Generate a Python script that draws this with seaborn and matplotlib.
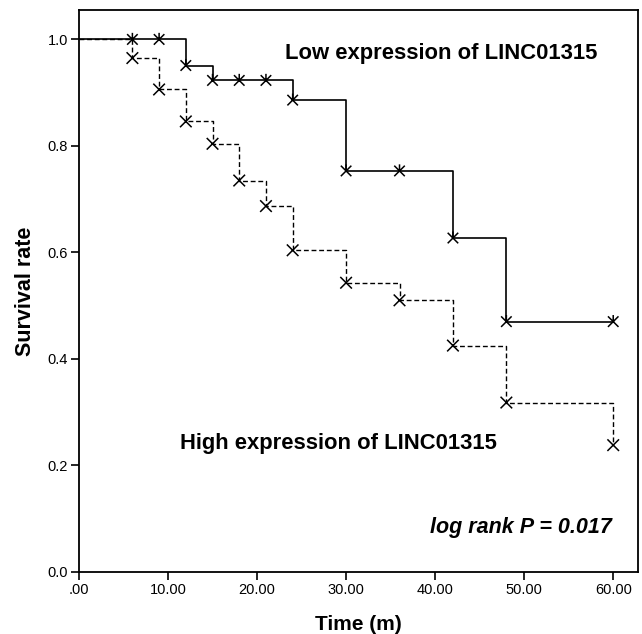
import matplotlib
matplotlib.use("Agg")
import matplotlib.pyplot as plt
import seaborn as sns
from matplotlib.path import Path

# Kaplan-Meier curves (step points)
low_time = [0, 12, 15, 24, 30, 42, 48, 60]
low_surv = [1.0, 0.951, 0.923, 0.886, 0.753, 0.627, 0.470, 0.470]
high_time = [0, 6, 9, 12, 15, 18, 21, 24, 30, 36, 42, 48, 60]
high_surv = [1.0, 0.965, 0.906, 0.846, 0.804, 0.735, 0.687, 0.604, 0.543, 0.510, 0.425, 0.318, 0.238]

# censor / event marks
low_mark_time = [6, 9, 12, 15, 18, 21, 24, 30, 36, 42, 48, 60]
low_mark_surv = [1.0, 1.0, 0.951, 0.923, 0.923, 0.923, 0.886, 0.753, 0.753, 0.627, 0.470, 0.470]
high_mark_time = [6, 9, 12, 15, 18, 21, 24, 30, 36, 42, 48, 60]
high_mark_surv = [0.965, 0.906, 0.846, 0.804, 0.735, 0.687, 0.604, 0.543, 0.510, 0.425, 0.318, 0.238]

x_ticks = [0, 10, 20, 30, 40, 50, 60]
x_tick_labels = [".00", "10.00", "20.00", "30.00", "40.00", "50.00", "60.00"]
y_ticks = [0.0, 0.2, 0.4, 0.6, 0.8, 1.0]
y_tick_labels = ["0.0", "0.2", "0.4", "0.6", "0.8", "1.0"]

sns.set_style("ticks")
plt.rcParams["font.family"] = ["Liberation Sans", "DejaVu Sans"]
plt.rcParams["text.color"] = "black"
plt.rcParams["axes.labelcolor"] = "black"

fig = plt.figure(figsize=(6.42, 6.34), dpi=100)
ax = fig.add_axes([0.123, 0.098, 0.871, 0.886])

# X with a small tick on top (low group), plain X (high group)
star = Path([(-1, -1), (1, 1), (-1, 1), (1, -1), (0, 0), (0, 1.25)],
            [Path.MOVETO, Path.LINETO, Path.MOVETO, Path.LINETO, Path.MOVETO, Path.LINETO])
cross = Path([(-1, -1), (1, 1), (-1, 1), (1, -1)],
             [Path.MOVETO, Path.LINETO, Path.MOVETO, Path.LINETO])

sns.lineplot(x=high_time, y=high_surv, ax=ax, color="black", linewidth=1.0,
             drawstyle="steps-post", linestyle=(0, (3.5, 2)), estimator=None, sort=False)
sns.lineplot(x=low_time, y=low_surv, ax=ax, color="black", linewidth=1.2,
             drawstyle="steps-post", estimator=None, sort=False)

sns.scatterplot(x=high_mark_time, y=high_mark_surv, ax=ax, marker=cross, s=70,
                facecolor="none", edgecolor="black", linewidth=1.1, zorder=3)
sns.scatterplot(x=low_mark_time, y=low_mark_surv, ax=ax, marker=star, s=90,
                facecolor="none", edgecolor="black", linewidth=1.1, zorder=3)

ax.set_xlim(0, 62.8)
ax.set_ylim(0, 1.055)
ax.set_xticks(x_ticks)
ax.set_xticklabels(x_tick_labels)
ax.set_yticks(y_ticks)
ax.set_yticklabels(y_tick_labels)
ax.tick_params(axis="both", direction="out", length=6, width=1.2, labelsize=10.5,
               colors="black", pad=2)

for side in ["left", "right", "top", "bottom"]:
    ax.spines[side].set_visible(True)
    ax.spines[side].set_linewidth(1.3)
    ax.spines[side].set_color("black")

ax.set_xlabel("Time (m)", fontsize=15, fontweight="bold", labelpad=13)
ax.set_ylabel("Survival rate", fontsize=15.5, fontweight="bold", labelpad=8)

ax.text(23.1, 0.974, "Low expression of LINC01315", fontsize=15.8, fontweight="bold",
        ha="left", va="center")
ax.text(11.3, 0.242, "High expression of LINC01315", fontsize=15.8, fontweight="bold",
        ha="left", va="center")
ax.text(59.9, 0.083, "log rank P = 0.017", fontsize=15.5, fontweight="bold",
        fontstyle="italic", ha="right", va="center")

plt.savefig("out.png", dpi=100)
plt.close()
